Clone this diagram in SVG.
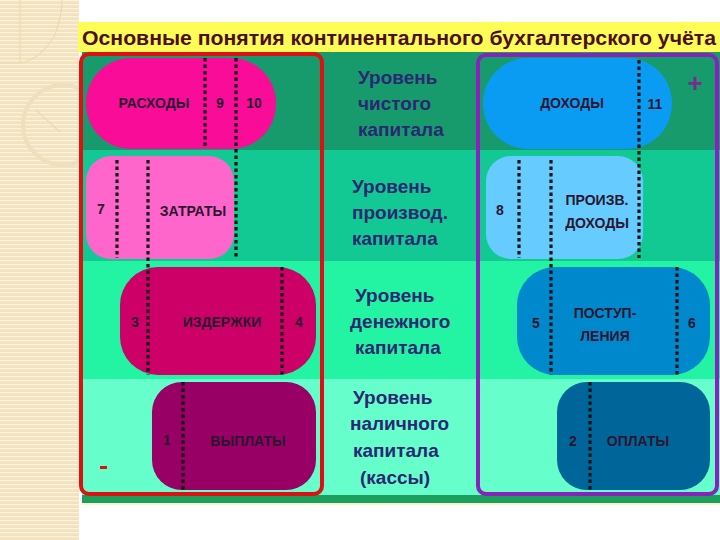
<svg xmlns="http://www.w3.org/2000/svg" width="720" height="540" viewBox="0 0 720 540">
<defs>
<pattern id="lines" width="6" height="4" patternUnits="userSpaceOnUse">
<rect width="6" height="4" fill="#f2e2bd"/>
<rect y="0" width="6" height="1.3" fill="#fbf2dc"/>
</pattern>
<style>
.t{font-family:"Liberation Sans",Arial,sans-serif;font-weight:bold}
.lvl{font-family:"Liberation Sans",Arial,sans-serif;font-weight:bold;font-size:19px;fill:#2a2872}
.nl{font-family:"Liberation Sans",Arial,sans-serif;font-weight:bold;font-size:14px;fill:#2a1630;text-anchor:middle}
.num{font-family:"Liberation Sans",Arial,sans-serif;font-weight:bold;font-size:14px;fill:#2a1630;text-anchor:middle}
.dot{stroke:#111;stroke-width:3.2;stroke-dasharray:3.5 3;fill:none}
</style>
</defs>
<rect width="720" height="540" fill="#ffffff"/>
<!-- left decorative strip -->
<rect x="0" y="0" width="79" height="540" fill="url(#lines)"/>
<g fill="none" stroke="#e9dab4" stroke-width="1.2">
<path d="M0 63 H20 Q40 60 55 35 Q62 15 62 0"/>
<path d="M20 0 V63"/>
<circle cx="63" cy="125" r="40" stroke-width="4" stroke="#eee0bc"/>
<path d="M36 110 L60 132"/>
</g>
<!-- title -->
<rect x="78" y="22" width="642" height="30" fill="#fdfd55"/>
<text class="t" x="82" y="45" font-size="21" fill="#4b0f1e" textLength="634" lengthAdjust="spacingAndGlyphs">Основные понятия континентального бухгалтерского учёта</text>
<!-- table rows -->
<rect x="82" y="52" width="638" height="98" fill="#179b6c"/>
<rect x="82" y="150" width="638" height="111" fill="#12c993"/>
<rect x="82" y="261" width="638" height="118" fill="#22f4a4"/>
<rect x="82" y="379" width="638" height="117" fill="#66ffcc"/>
<rect x="82" y="495" width="638" height="8" fill="#1c9e5c"/>
<rect x="82" y="503" width="638" height="2" fill="#f4f7c8"/>
<!-- level labels -->
<g id="level1"><text class="lvl" x="358" y="84">Уровень</text><text class="lvl" x="358" y="110">чистого</text><text class="lvl" x="358" y="136">капитала</text></g>
<g id="level2"><text class="lvl" x="352" y="193">Уровень</text><text class="lvl" x="352" y="219">производ.</text><text class="lvl" x="352" y="245">капитала</text></g>
<g id="level3"><text class="lvl" x="355" y="302">Уровень</text><text class="lvl" x="350" y="328">денежного</text><text class="lvl" x="355" y="354">капитала</text></g>
<g id="level4"><text class="lvl" x="353" y="404">Уровень</text><text class="lvl" x="350" y="430">наличного</text><text class="lvl" x="353" y="457">капитала</text><text class="lvl" x="360" y="484">(кассы)</text></g>
<!-- nodes -->
<g id="rashody"><rect x="86" y="58" width="190" height="91" rx="45" fill="#f80c98"/><text class="nl" x="154" y="108">РАСХОДЫ</text><text class="num" x="220" y="108">9</text><text class="num" x="254" y="108">10</text></g>
<g id="zatraty"><rect x="86" y="156" width="148" height="103" rx="25" fill="#ff66cc"/><text class="num" x="101" y="214">7</text><text class="nl" x="193" y="216">ЗАТРАТЫ</text></g>
<g id="izderzhki"><rect x="120" y="267" width="196" height="108" rx="38" fill="#cc0066"/><text class="num" x="135" y="327">3</text><text class="nl" x="222" y="327">ИЗДЕРЖКИ</text><text class="num" x="299" y="327">4</text></g>
<g id="vyplaty"><rect x="152" y="382" width="164" height="108" rx="30" fill="#990066"/><text class="num" x="167" y="445">1</text><text class="nl" x="248" y="446">ВЫПЛАТЫ</text></g>
<g id="dohody"><rect x="483" y="58" width="189" height="91" rx="45" fill="#0a9cf2"/><text class="nl" x="572" y="108">ДОХОДЫ</text><text class="num" x="655" y="109">11</text></g>
<g id="proizv"><rect x="486" y="156" width="157" height="103" rx="25" fill="#66ccff"/><text class="num" x="500" y="215">8</text><text class="nl" x="597" y="205">ПРОИЗВ.</text><text class="nl" x="597" y="228">ДОХОДЫ</text></g>
<g id="postup"><rect x="517" y="267" width="193" height="108" rx="38" fill="#0088cc"/><text class="num" x="536" y="328">5</text><text class="nl" x="605" y="318">ПОСТУП-</text><text class="nl" x="605" y="341">ЛЕНИЯ</text><text class="num" x="692" y="328">6</text></g>
<g id="oplaty"><rect x="557" y="382" width="153" height="108" rx="30" fill="#006699"/><text class="num" x="573" y="446">2</text><text class="nl" x="638" y="446">ОПЛАТЫ</text></g>
<!-- borders -->
<rect x="81" y="54" width="241" height="440" rx="8" fill="none" stroke="#dd1111" stroke-width="4"/>
<rect x="478" y="55" width="239" height="439" rx="8" fill="none" stroke="#8822bb" stroke-width="4"/>
<text class="t" x="695" y="92" font-size="26" fill="#7a2a8a" text-anchor="middle">+</text>
<rect x="100" y="466" width="7" height="3" fill="#dd1111"/>
<!-- connectors (dotted dividers) -->
<g id="connectors" class="dot">
<line class="dot" x1="205" y1="58" x2="205" y2="148"/>
<line class="dot" x1="236" y1="58" x2="236" y2="258"/>
<line class="dot" x1="117" y1="160" x2="117" y2="258"/>
<line class="dot" x1="148" y1="160" x2="148" y2="375"/>
<line class="dot" x1="282" y1="267" x2="282" y2="375"/>
<line class="dot" x1="183" y1="382" x2="183" y2="490"/>
<line class="dot" x1="639" y1="60" x2="639" y2="258"/>
<line class="dot" x1="519" y1="160" x2="519" y2="258"/>
<line class="dot" x1="551" y1="160" x2="551" y2="375"/>
<line class="dot" x1="677" y1="267" x2="677" y2="375"/>
<line class="dot" x1="590" y1="382" x2="590" y2="490"/>
</g>
</svg>
